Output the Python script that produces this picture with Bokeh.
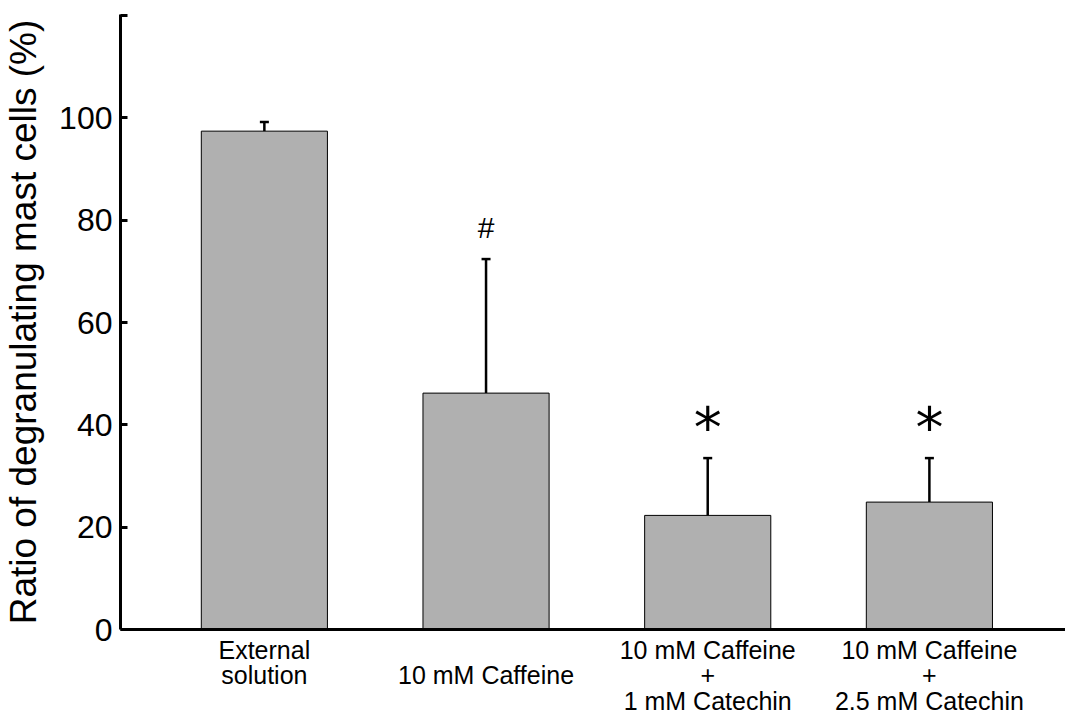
from bokeh.plotting import figure
from bokeh.models import ColumnDataSource, Whisker, TeeHead, FixedTicker, Range1d
from bokeh.core.properties import value
from bokeh.embed import file_html
from bokeh.resources import INLINE

categories = ["External\nsolution", "\n10 mM Caffeine",
              "10 mM Caffeine\n+\n1 mM Catechin", "10 mM Caffeine\n+\n2.5 mM Catechin"]
means = [97.4, 46.2, 22.3, 24.9]
errors = [1.8, 26.2, 11.2, 8.6]
marks = ["", "#", "*", "*"]
mark_y = [0, 78.5, 39.5, 39.5]
y_ticks = [0, 20, 40, 60, 80, 100, 120]

xs = list(range(len(categories)))
src = ColumnDataSource(dict(x=xs, top=means, upper=[m + e for m, e in zip(means, errors)]))

p = figure(width=1065, height=718, output_backend="svg", toolbar_location=None,
           x_range=Range1d(-0.649, 3.614), y_range=Range1d(0, 120.2),
           min_border_left=113, min_border_top=14, min_border_right=0, min_border_bottom=80)
p.outline_line_color = None
p.xgrid.visible = False
p.ygrid.visible = False

p.vbar(x="x", top="top", bottom=0, width=0.569, source=src,
       fill_color="#b0b0b0", line_color="black", line_width=1)

w = Whisker(base="x", upper="upper", lower="top", source=src, line_width=2.5,
            line_color="black",
            upper_head=TeeHead(size=9, line_width=2.5, line_color="black"), lower_head=None)
p.add_layout(w)

hash_x = [x for x, m in zip(xs, marks) if m == "#"]
hash_y = [y for y, m in zip(mark_y, marks) if m == "#"]
star_x = [x for x, m in zip(xs, marks) if m == "*"]
star_y = [y for y, m in zip(mark_y, marks) if m == "*"]
p.text(x=hash_x, y=hash_y, text=["#"] * len(hash_x), text_font=value("Liberation Sans"),
       text_font_size="30px", text_align="center", text_baseline="middle", text_color="black")
p.text(x=star_x, y=star_y, text=["*"] * len(star_x), text_font=value("DejaVu Sans"),
       text_font_size="56px", text_align="center", text_baseline="middle", text_color="black")

ya = p.yaxis[0]
ya.ticker = FixedTicker(ticks=y_ticks)
ya.major_label_overrides = {120: ""}
ya.axis_line_width = 3
ya.major_tick_in = 7
ya.major_tick_out = 0
ya.major_tick_line_width = 3
ya.minor_tick_line_color = None
ya.major_label_text_font = "Liberation Sans"
ya.major_label_text_font_size = "32px"
ya.major_label_text_color = "black"
ya.major_label_standoff = 8
ya.axis_label = "Ratio of degranulating mast cells (%)"
ya.axis_label_text_font = "Liberation Sans"
ya.axis_label_text_font_size = "37px"
ya.axis_label_text_font_style = "normal"
ya.axis_label_text_color = "black"
ya.axis_label_standoff = 12

xa = p.xaxis[0]
xa.ticker = FixedTicker(ticks=xs)
xa.major_label_overrides = {i: c for i, c in enumerate(categories)}
xa.axis_line_width = 3
xa.major_tick_line_color = None
xa.minor_tick_line_color = None
xa.major_label_text_font = "Liberation Sans"
xa.major_label_text_font_size = "25px"
xa.major_label_text_color = "black"
xa.major_label_text_line_height = 0.92
xa.major_label_standoff = 0

open("out.html", "w").write(file_html(p, INLINE))
